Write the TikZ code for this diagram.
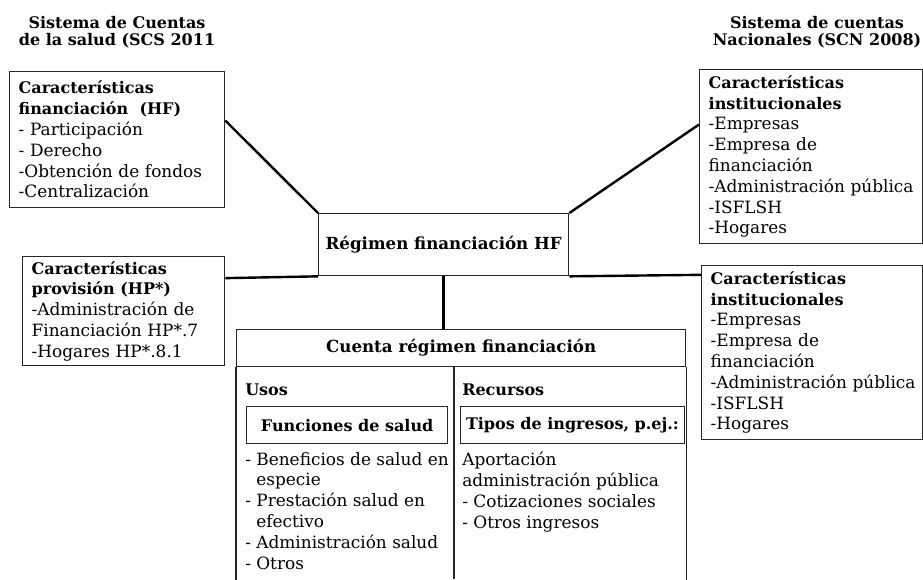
\documentclass[tikz,border=0pt]{standalone}
\usepackage{fontspec}
\setmainfont{DejaVu Serif}
\usetikzlibrary{positioning}
\newcommand{\hdr}[1]{{\bfseries\fontsize{12}{15.6}\selectfont #1}}

\begin{document}
\begin{tikzpicture}[
  x=0.75pt, y=-0.75pt,
  every node/.style={font=\fontsize{12.7}{15.6}\selectfont},
  box/.style={draw=black!85, line width=1pt, anchor=north west, align=left, inner xsep=6.75pt, inner ysep=0pt},
  bold/.style={font=\bfseries\fontsize{12}{15.6}\selectfont},
  big/.style={font=\bfseries\fontsize{12.5}{15.6}\selectfont, inner xsep=2pt},
  title/.style={align=center, font=\bfseries\fontsize{12}{12.3}\selectfont},
  list/.style={anchor=north west, align=left, inner sep=0pt},
  link/.style={line width=1.8pt},
  frame/.style={draw=black!85, line width=1pt}
]
\useasboundingbox (0,0) rectangle (923,579);

\node[title] (scs) at (117,32) {Sistema de Cuentas\\de la salud (SCS 2011};
\node[title] (scn) at (817,32) {Sistema de cuentas\\Nacionales (SCN 2008)};

\node[box, text width=147.75pt, minimum height=102pt] (hf) at (9,71) {\hdr{Características}\\\hdr{financiación\ \ (HF)}\\- Participación\\- Derecho\\-Obtención de fondos\\-Centralización};
\node[box, text width=138pt, minimum height=81.75pt] (hp) at (22,256) {\hdr{Características}\\\hdr{provisión (HP*)}\\-Administración de\\Financiación HP*.7\\-Hogares HP*.8.1};
\node[box, big, minimum width=187.5pt, minimum height=46.5pt] (hfreg) at (318,213) {Régimen financiación HF};
\node[box, text width=153.75pt, minimum height=130.5pt] (scnA) at (699,69) {\hdr{Características}\\\hdr{institucionales}\\-Empresas\\-Empresa de\\financiación\\\mbox{-Administración pública}\\-ISFLSH\\-Hogares};
\node[box, text width=152.25pt, minimum height=130.5pt] (scnB) at (701,265) {\hdr{Características}\\\hdr{institucionales}\\-Empresas\\-Empresa de\\financiación\\\mbox{-Administración pública}\\-ISFLSH\\-Hogares};

\node[box, big, minimum width=336.75pt, minimum height=27.75pt] (cuenta) at (236,329) {Cuenta régimen financiación};
\draw[frame] (cuenta.south west) -- ++(0,213);
\draw[frame] (cuenta.south east) -- ++(0,213);
\draw[frame] (454,366) -- (454,579);

\node[bold, anchor=base west, inner sep=0pt] (usos) at (245,395) {Usos};
\node[bold, anchor=base west, inner sep=0pt] (recursos) at (462,395) {Recursos};
\node[box, bold, minimum width=150.75pt, minimum height=27.75pt] (funciones) at (246,406) {Funciones de salud};
\node[box, bold, minimum width=162.75pt, minimum height=27.75pt, inner xsep=4pt] (tipos) at (460,406) {Tipos de ingresos, p.ej.:};
\node[list] (usoslist) at (245,452) {- Beneficios de salud en\\\phantom{- }especie\\- Prestación salud en\\\phantom{- }efectivo\\- Administración salud\\- Otros};
\node[list] (recurlist) at (462,452) {Aportación\\administración pública\\- Cotizaciones sociales\\- Otros ingresos};

\draw[link] (hf.10) -- (hfreg.north west);
\draw[link] (hp.18) -- (hfreg.south west);
\draw[link] (hfreg.north east) -- (scnA.164);
\draw[link] (hfreg.south east) -- (scnB.145);
\draw[link] (hfreg.south) -- (hfreg.south |- cuenta.north);

\end{tikzpicture}
\end{document}
